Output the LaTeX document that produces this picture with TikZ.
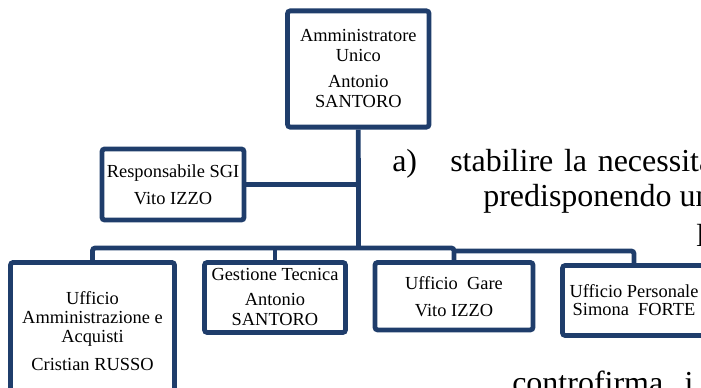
\documentclass[tikz,border=0pt]{standalone}
\usepackage{fontspec}
\setmainfont{Liberation Serif}
\usetikzlibrary{positioning}
\definecolor{orgblue}{HTML}{1F3D6B}
\tikzset{
  orgbox/.style={draw=orgblue,line width=3.6pt,rounded corners=2pt,align=center,inner sep=0pt,font=\fontsize{13.8}{15}\selectfont},
  link/.style={draw=orgblue,line width=3.6pt},
  pagetext/.style={anchor=base west,inner sep=0pt,font=\fontsize{24}{28}\selectfont}
}
\begin{document}
\begin{tikzpicture}[x=0.75pt,y=-0.75pt]
  \useasboundingbox (0,0) rectangle (701,388);
  % boxes
  \node[orgbox,minimum width=106.1pt,minimum height=87.2pt] (amm) at (358.3,69) {Amministratore\\Unico\\[4.5pt]Antonio\\SANTORO};
  \node[orgbox,minimum width=106.5pt,minimum height=53.3pt] (sgi) at (173,184.5) {Responsabile SGI\\[5.4pt]Vito IZZO};
  \node[orgbox,minimum width=123pt,minimum height=103.1pt] (uam) at (92.5,331.2) {Ufficio\\[-0.75pt]Amministrazione e\\[-0.75pt]Acquisti\\[6pt]Cristian RUSSO};
  \node[orgbox,minimum width=105.7pt,minimum height=52.5pt] (ges) at (275,297.5) {Gestione Tecnica\\[3.75pt]Antonio\\SANTORO};
  \node[orgbox,minimum width=118.5pt,minimum height=50.6pt] (gare) at (454,296.2) {Ufficio\ \ Gare\\[5.2pt]Vito IZZO};
  \node[orgbox,minimum width=107.2pt,minimum height=52.5pt] (pers) at (634,300.5) {Ufficio Personale\\[-1.5pt]Simona\ \ FORTE};
  % connectors
  \coordinate (bus) at (358.5,248);
  \coordinate (bus2) at (454,251);
  \draw[link] (amm.south) -- (bus);
  \draw[link] (sgi.east) -- (sgi.east -| amm.south);
  \draw[link,rounded corners=2pt] (uam.north) |- (gare.north |- bus) -- (gare.north);
  \draw[link] (ges.north) -- (ges.north |- bus);
  \draw[link,rounded corners=2pt] (bus2) -| (pers.north);
  % page text behind the chart
  \node[pagetext] (ta) at (392,172) {a)};
  \node[pagetext] (tb) at (450,172) {stabilire\hspace{8pt}la\hspace{8pt}necessità};
  \node[pagetext] (tc) at (483,207) {predisponendo un};
  \node[pagetext] (td) at (696,247) {l};
  \node[pagetext] (te) at (512,394) {controfirma\hspace{16pt}i};
\end{tikzpicture}
\end{document}
